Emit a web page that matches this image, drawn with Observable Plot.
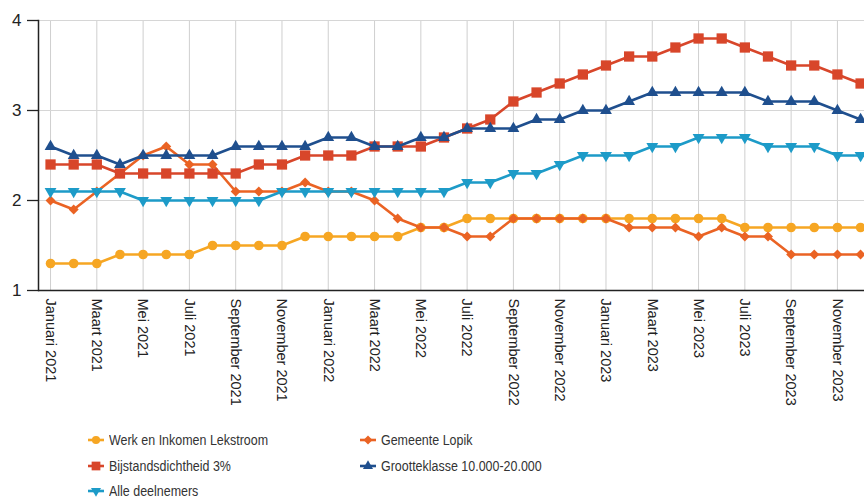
<!DOCTYPE html>
<html>
<head>
<meta charset="utf-8">
<script src="https://cdn.jsdelivr.net/npm/d3@7"></script>
<script src="https://cdn.jsdelivr.net/npm/@observablehq/plot@0.6"></script>
<style>
  html, body { margin: 0; padding: 0; background: #fff; }
  body { width: 864px; height: 498px; position: relative; overflow: hidden; font-family: "Liberation Sans", Arial, sans-serif; }
  #chart svg { display: block; }
  .leg { position: absolute; display: flex; align-items: center; font-size: 14px; color: #333; white-space: nowrap; }
  .leg svg { margin-right: 5px; }
  .leg span { display: inline-block; transform: scaleX(0.89); transform-origin: left center; }
</style>
</head>
<body>
<div id="chart"></div>
<div id="legend"></div>
<script>
// Month index 0 = Januari 2021 ... 35 = December 2023
const tickMonths = [0, 2, 4, 6, 8, 10, 12, 14, 16, 18, 20, 22, 24, 26, 28, 30, 32, 34];
const tickLabels = [
  "Januari 2021", "Maart 2021", "Mei 2021", "Juli 2021", "September 2021", "November 2021",
  "Januari 2022", "Maart 2022", "Mei 2022", "Juli 2022", "September 2022", "November 2022",
  "Januari 2023", "Maart 2023", "Mei 2023", "Juli 2023", "September 2023", "November 2023"
];
const seriesNames = [
  "Werk en Inkomen Lekstroom", "Gemeente Lopik", "Bijstandsdichtheid 3%",
  "Grootteklasse 10.000-20.000", "Alle deelnemers"
];
const werkLekstroom = [1.3,1.3,1.3,1.4,1.4,1.4,1.4,1.5,1.5,1.5,1.5,1.6,1.6,1.6,1.6,1.6,1.7,1.7,1.8,1.8,1.8,1.8,1.8,1.8,1.8,1.8,1.8,1.8,1.8,1.8,1.7,1.7,1.7,1.7,1.7,1.7];
const gemeenteLopik = [2.0,1.9,2.1,2.3,2.5,2.6,2.4,2.4,2.1,2.1,2.1,2.2,2.1,2.1,2.0,1.8,1.7,1.7,1.6,1.6,1.8,1.8,1.8,1.8,1.8,1.7,1.7,1.7,1.6,1.7,1.6,1.6,1.4,1.4,1.4,1.4];
const bijstand3 = [2.4,2.4,2.4,2.3,2.3,2.3,2.3,2.3,2.3,2.4,2.4,2.5,2.5,2.5,2.6,2.6,2.6,2.7,2.8,2.9,3.1,3.2,3.3,3.4,3.5,3.6,3.6,3.7,3.8,3.8,3.7,3.6,3.5,3.5,3.4,3.3];
const grootteklasse = [2.6,2.5,2.5,2.4,2.5,2.5,2.5,2.5,2.6,2.6,2.6,2.6,2.7,2.7,2.6,2.6,2.7,2.7,2.8,2.8,2.8,2.9,2.9,3.0,3.0,3.1,3.2,3.2,3.2,3.2,3.2,3.1,3.1,3.1,3.0,2.9];
const alleDeelnemers = [2.1,2.1,2.1,2.1,2.0,2.0,2.0,2.0,2.0,2.0,2.1,2.1,2.1,2.1,2.1,2.1,2.1,2.1,2.2,2.2,2.3,2.3,2.4,2.5,2.5,2.5,2.6,2.6,2.7,2.7,2.7,2.6,2.6,2.6,2.5,2.5];
const yTicks = [1, 2, 3, 4];

const seriesValues = [werkLekstroom, gemeenteLopik, bijstand3, grootteklasse, alleDeelnemers];
const colors = ["#f6a623", "#ea6324", "#d8462a", "#1f4f8e", "#1d9bc8"];
const symbols = ["circle", "diamond2", "square", "triangle", "triangle"];
const rotations = [0, 0, 0, 0, 180];
const radii = [4.8, 4.5, 5.8, 4.4, 4.4];

const data = [];
seriesValues.forEach((vals, s) => vals.forEach((v, m) => data.push({series: seriesNames[s], s, month: m, value: v})));

const marks = [
  Plot.gridX(tickMonths, {stroke: "#cfcfcf", strokeOpacity: 1, strokeWidth: 1}),
  Plot.gridY([2, 3, 4], {stroke: "#d6d6d6", strokeOpacity: 1, strokeWidth: 1}),
  Plot.axisX(tickMonths, {tickRotate: 90, tickSize: 0, tickPadding: 8, tickFormat: (d) => tickLabels[tickMonths.indexOf(d)], fontSize: 14.5, fill: "#222", label: null}),
  Plot.axisY(yTicks, {tickSize: 11, tickPadding: 6, fontSize: 17, fill: "#222", stroke: "#222", strokeWidth: 1.3, label: null, tickFormat: d3.format("d")}),
  Plot.ruleY([1], {stroke: "#222", strokeWidth: 1.5}),
  Plot.frame({anchor: "left", stroke: "#222", strokeWidth: 1.5})
];
seriesValues.forEach((vals, s) => {
  const sd = data.filter(d => d.s === s);
  marks.push(Plot.line(sd, {x: "month", y: "value", stroke: colors[s], strokeWidth: 2.6}));
  marks.push(Plot.dot(sd, {x: "month", y: "value", fill: colors[s], stroke: "none", symbol: symbols[s], r: radii[s], rotate: rotations[s]}));
});

const chart = Plot.plot({
  width: 864,
  height: 410,
  marginLeft: 38,
  marginRight: 0,
  marginTop: 20,
  marginBottom: 120,
  style: {fontFamily: "'Liberation Sans', Arial, sans-serif", background: "#fff", overflow: "visible"},
  x: {type: "linear", domain: [-0.52, 35.17], axis: null},
  y: {domain: [1, 4], axis: null},
  marks
});
document.getElementById("chart").appendChild(chart);

// Legend (HTML, below the SVG)
const legendPos = [
  {x: 88, y: 440}, {x: 360, y: 440},
  {x: 88, y: 466}, {x: 360, y: 466},
  {x: 88, y: 491}
];
const legend = document.getElementById("legend");
seriesNames.forEach((name, s) => {
  const item = document.createElement("div");
  item.className = "leg";
  item.style.left = legendPos[s].x + "px";
  item.style.top = (legendPos[s].y - 9) + "px";
  item.style.height = "18px";
  const sw = d3.create("svg").attr("width", 16).attr("height", 14);
  sw.append("line").attr("x1", 0).attr("x2", 16).attr("y1", 7).attr("y2", 7).attr("stroke", colors[s]).attr("stroke-width", 2.6);
  const sym = {circle: d3.symbolCircle, diamond2: d3.symbolSquare, square: d3.symbolSquare, triangle: d3.symbolTriangle}[symbols[s]];
  const rot = s === 1 ? 45 : rotations[s];
  const rr = s === 1 ? 3.6 : radii[s] * 0.85;
  sw.append("path").attr("d", d3.symbol(sym, Math.PI * rr ** 2)()).attr("fill", colors[s]).attr("transform", `translate(8,7) rotate(${rot})`);
  item.appendChild(sw.node());
  const t = document.createElement("span");
  t.textContent = name;
  item.appendChild(t);
  legend.appendChild(item);
});
</script>
</body>
</html>
